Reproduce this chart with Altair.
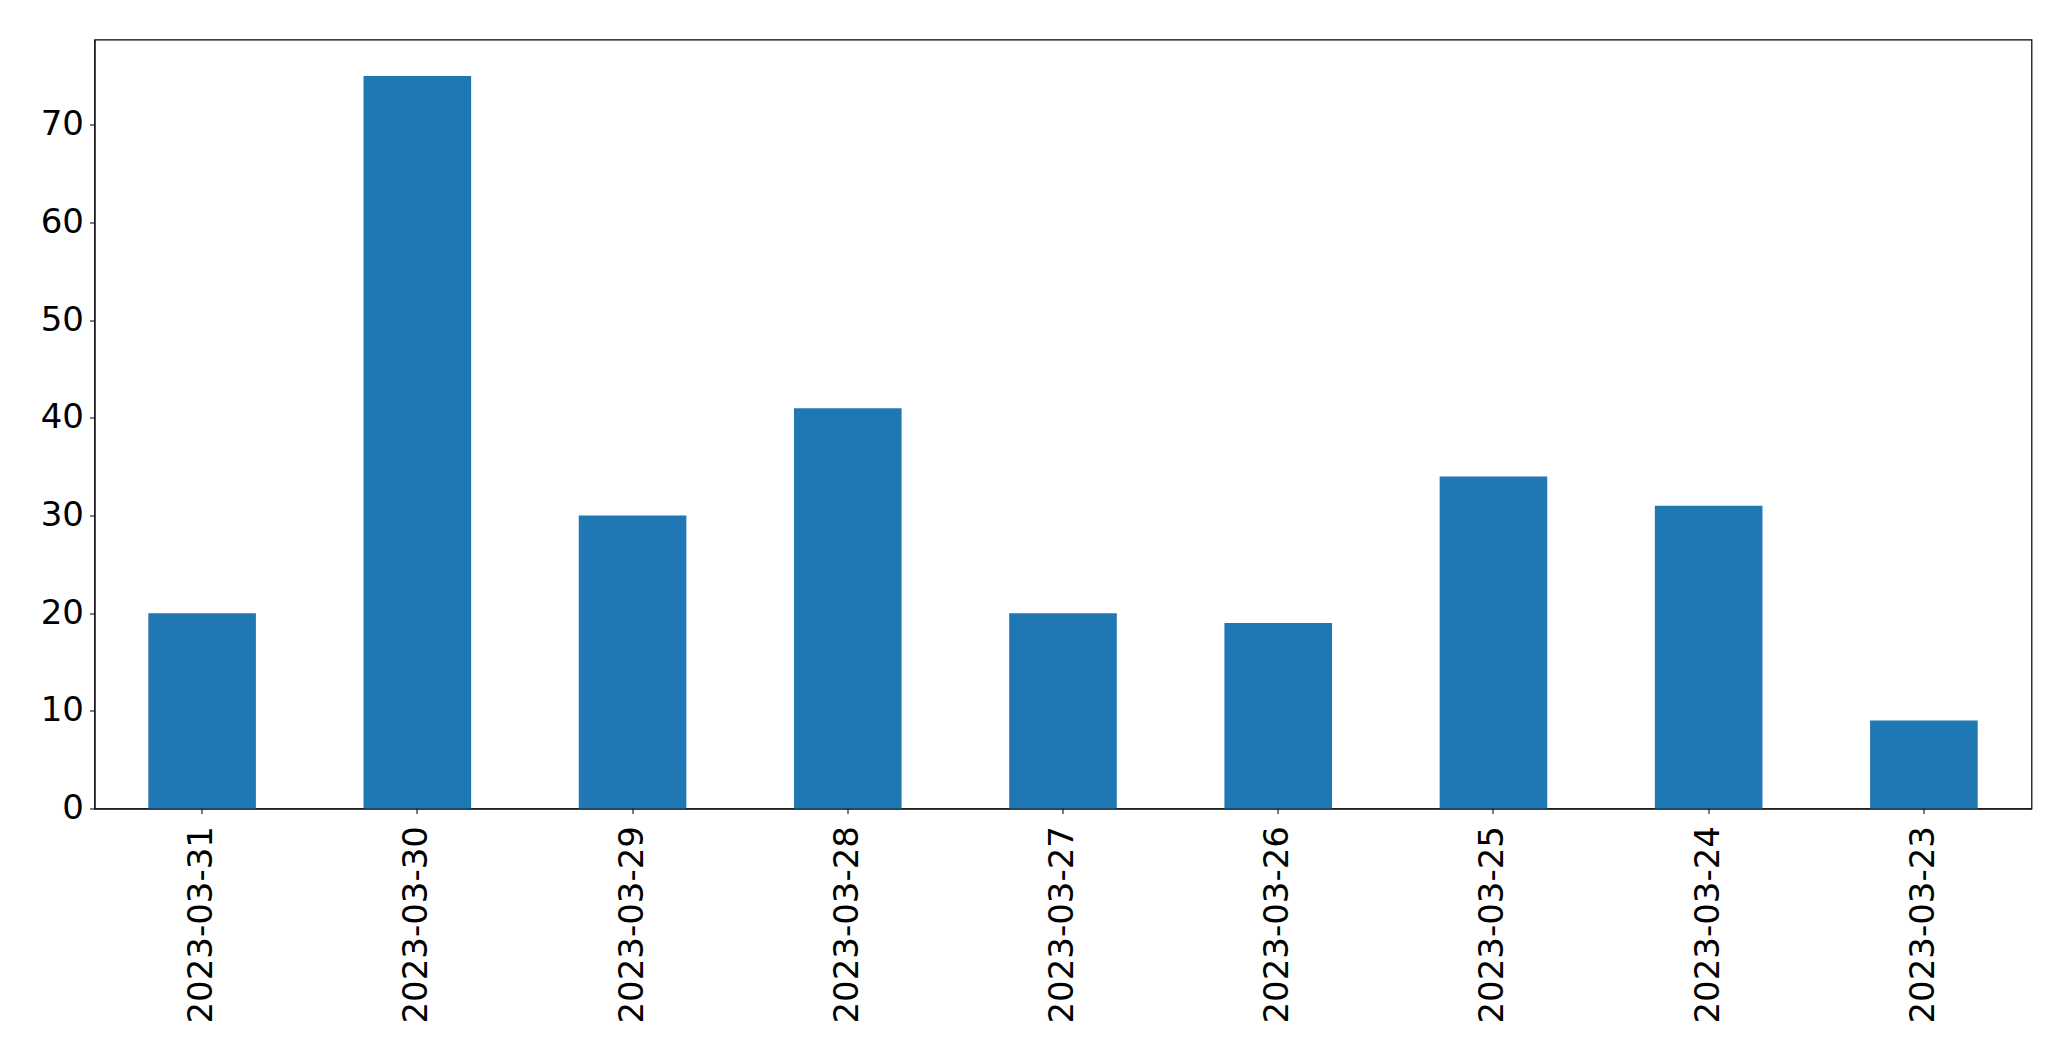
import altair as alt
import pandas as pd

dates = ["2023-03-31", "2023-03-30", "2023-03-29", "2023-03-28", "2023-03-27",
         "2023-03-26", "2023-03-25", "2023-03-24", "2023-03-23"]
counts = [20, 75, 30, 41, 20, 19, 34, 31, 9]
y_ticks = [0, 10, 20, 30, 40, 50, 60, 70]

df = pd.DataFrame({"date": dates, "count": counts})

chart = alt.Chart(df).mark_bar(color="#1f77b4").encode(
    x=alt.X("date:N", sort=None, title=None,
            scale=alt.Scale(paddingInner=0.5, paddingOuter=0.25),
            axis=alt.Axis(labelAngle=270, labelFontSize=34, labelFont="DejaVu Sans",
                          labelColor="black", tickColor="black", tickSize=5,
                          domainColor="black", labelPadding=12, labelLimit=400)),
    y=alt.Y("count:Q", title=None,
            scale=alt.Scale(domain=[0, 78.75], nice=False, zero=True),
            axis=alt.Axis(values=y_ticks, grid=False, labelFontSize=34,
                          labelFont="DejaVu Sans", labelColor="black",
                          tickColor="black", tickSize=5, domainColor="black",
                          labelPadding=6)),
).properties(
    width=1937, height=769,
    autosize=alt.AutoSizeParams(type="none"),
    padding={"left": 86.5, "top": 31.5, "right": 30, "bottom": 240},
).configure_view(stroke="black", strokeWidth=1.2)

chart.save("out.html", embed_options={"renderer": "svg", "actions": False})
